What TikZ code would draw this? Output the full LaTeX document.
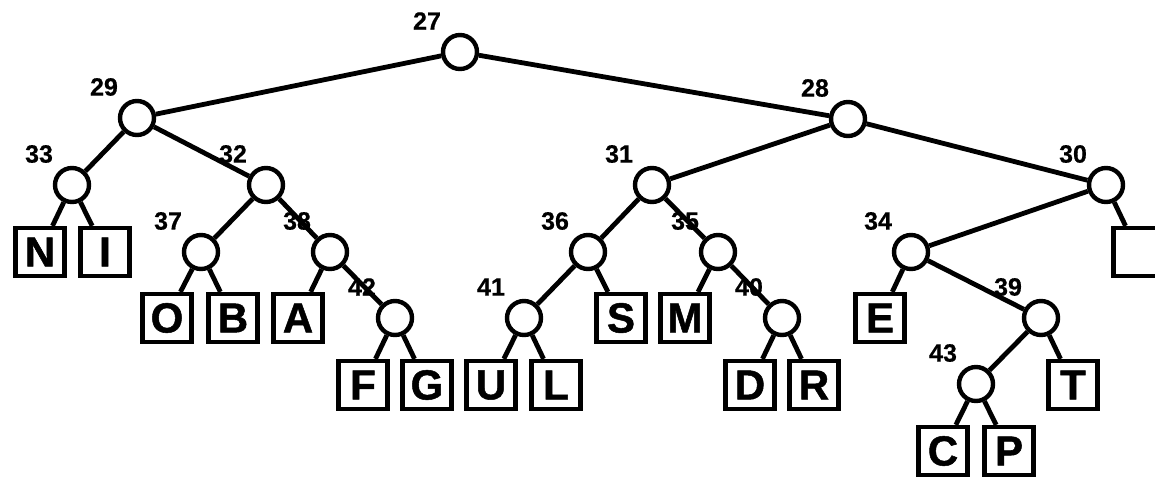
\documentclass[tikz,border=0pt]{standalone}
\usepackage{fontspec}
\setmainfont{Liberation Sans}
\newfontfamily\heavyfont[FakeBold=1.2]{Liberation Sans Bold}
\newfontfamily\numfont[FakeBold=0.6]{Liberation Sans Bold}
\begin{document}
\begin{tikzpicture}[x=1pt,y=-1pt,
  inner/.style={circle,draw,line width=4.4pt,fill=white,minimum size=34pt,inner sep=0pt},
  leaf/.style={rectangle,draw,line width=4.2pt,fill=white,minimum width=49pt,minimum height=48pt,inner sep=0pt,font=\heavyfont\fontsize{42}{42}\selectfont},
  lbl/.style={inner sep=0pt,font=\numfont\fontsize{25}{25}\selectfont},
  edge/.style={line width=4.8pt}]
\useasboundingbox (0,0) rectangle (1155,477);
% internal nodes
\node[inner] (n27) at (460,52) {};
\node[inner] (n29) at (137,118) {};
\node[inner] (n28) at (848,119) {};
\node[inner] (n33) at (72,185) {};
\node[inner] (n32) at (266,185) {};
\node[inner] (n31) at (652,185) {};
\node[inner] (n30) at (1106,185) {};
\node[inner] (n37) at (201,252) {};
\node[inner] (n38) at (330,252) {};
\node[inner] (n36) at (588,252) {};
\node[inner] (n35) at (718,252) {};
\node[inner] (n34) at (911,252) {};
\node[inner] (n42) at (395,318) {};
\node[inner] (n41) at (524,318) {};
\node[inner] (n40) at (782,318) {};
\node[inner] (n39) at (1041,318) {};
\node[inner] (n43) at (976,384) {};
% labels
\foreach \n/\x/\y in {27/460/52,29/137/118,28/848/119,33/72/185,32/266/185,31/652/185,30/1106/185,37/201/252,38/330/252,36/588/252,35/718/252,34/911/252,42/395/318,41/524/318,40/782/318,39/1041/318,43/976/384}
  \node[lbl] (l\n) at (\x-33,\y-31) {\n};
% leaves
\node[leaf] (bN) at (40,252) {N};
\node[leaf] (bI) at (105,252) {I};
\node[leaf] (bO) at (167,318) {O};
\node[leaf] (bB) at (233,318) {B};
\node[leaf] (bA) at (298,318) {A};
\node[leaf] (bF) at (363,385) {F};
\node[leaf] (bG) at (427,385) {G};
\node[leaf] (bU) at (491,385) {U};
\node[leaf] (bL) at (556,385) {L};
\node[leaf] (bS) at (621,318) {S};
\node[leaf] (bM) at (685,318) {M};
\node[leaf] (bD) at (750,385) {D};
\node[leaf] (bR) at (814,385) {R};
\node[leaf] (bE) at (880,318) {E};
\node[leaf] (bT) at (1073,385) {T};
\node[leaf] (bC) at (943,451) {C};
\node[leaf] (bP) at (1009,451) {P};
\node[leaf] (bX) at (1138,252) {};
% edges
\foreach \a/\b in {n27/n29,n27/n28,n29/n33,n29/n32,n33/bN,n33/bI,n32/n37,n32/n38,n37/bO,n37/bB,n38/bA,n38/n42,n42/bF,n42/bG,n28/n31,n28/n30,n31/n36,n31/n35,n36/n41,n36/bS,n41/bU,n41/bL,n35/bM,n35/n40,n40/bD,n40/bR,n30/n34,n30/bX,n34/bE,n34/n39,n39/n43,n39/bT,n43/bC,n43/bP}
  \draw[edge] (\a) -- (\b);
\end{tikzpicture}
\end{document}
